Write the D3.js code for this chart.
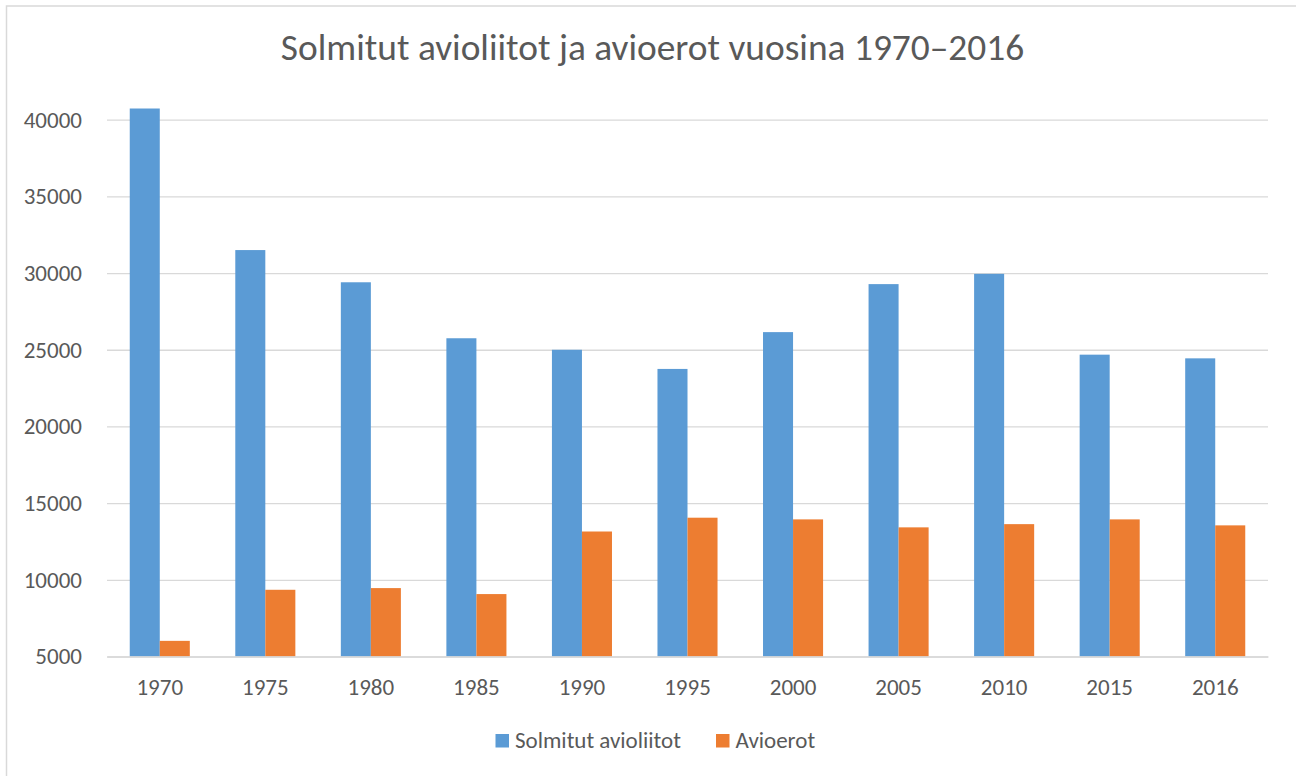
<!DOCTYPE html>
<html>
<head>
<meta charset="utf-8">
<script src="https://cdn.jsdelivr.net/npm/d3@7"></script>
<style>
  html, body { margin: 0; padding: 0; background: #fff; }
  svg text { font-family: Carlito, Calibri, Lato, sans-serif; fill: #595959; }
</style>
</head>
<body>
<div id="chart"></div>
<script>
var years = ["1970", "1975", "1980", "1985", "1990", "1995", "2000", "2005", "2010", "2015", "2016"];
var marriages = [40730, 31500, 29400, 25750, 25000, 23750, 26150, 29280, 29950, 24680, 24440];
var divorces = [6020, 9350, 9460, 9070, 13150, 14050, 13940, 13420, 13630, 13940, 13550];
var yTicks = [5000, 10000, 15000, 20000, 25000, 30000, 35000, 40000];
var seriesNames = ["Solmitut avioliitot", "Avioerot"];
var seriesColors = ["#5b9bd5", "#ed7d31"];

var width = 1296, height = 776;
var plot = {left: 107, right: 1268, top: 119.7, bottom: 656.5};

var svg = d3.select('#chart')
  .append('svg')
    .attr('width', width)
    .attr('height', height);

// chart frame
svg.append('rect')
  .attr('x', 6.5).attr('y', 6)
  .attr('width', width + 10).attr('height', height + 10)
  .attr('fill', 'none')
  .attr('stroke', '#d9d9d9')
  .attr('stroke-width', 1.5);

svg.append('text')
  .attr('x', 652.5).attr('y', 60)
  .attr('text-anchor', 'middle')
  .style('font-size', '37.4px')
  .style('font-weight', 300)
  .text("Solmitut avioliitot ja avioerot vuosina 1970\u20132016");

var x = d3.scaleBand()
  .domain(years)
  .range([plot.left, plot.right])
  .paddingInner(0.431)
  .paddingOuter(0.2155);

var xs = d3.scaleBand()
  .domain([0, 1])
  .range([0, x.bandwidth()]);

var y = d3.scaleLinear()
  .domain([5000, 40000])
  .range([plot.bottom, plot.top]);

// gridlines
svg.append('g')
  .attr('transform', 'translate(' + plot.left + ',0)')
  .call(d3.axisLeft(y).tickValues(yTicks).tickSize(-(plot.right - plot.left)).tickFormat(''))
  .call(function (g) {
    g.select('.domain').remove();
    g.selectAll('line').attr('stroke', '#d9d9d9').attr('stroke-width', 1.3);
  });

// y labels
svg.append('g')
  .attr('transform', 'translate(' + (plot.left - 25) + ',0)')
  .call(d3.axisLeft(y).tickValues(yTicks).tickSize(0).tickFormat(d3.format('d')))
  .call(function (g) {
    g.select('.domain').remove();
    g.selectAll('text').attr('text-anchor', 'end').attr('x', 0).style('font-size', '23px');
  });

var groups = svg.selectAll('g.year')
  .data(years)
  .enter()
    .append('g')
      .classed('year', true)
      .attr('transform', function (d) { return 'translate(' + x(d) + ',0)'; });

groups.append('rect')
  .attr('x', xs(0))
  .attr('width', xs.bandwidth())
  .attr('y', function (d, i) { return y(marriages[i]); })
  .attr('height', function (d, i) { return plot.bottom - y(marriages[i]); })
  .attr('fill', seriesColors[0]);

groups.append('rect')
  .attr('x', xs(1))
  .attr('width', xs.bandwidth())
  .attr('y', function (d, i) { return y(divorces[i]); })
  .attr('height', function (d, i) { return plot.bottom - y(divorces[i]); })
  .attr('fill', seriesColors[1]);

// x axis
svg.append('g')
  .attr('transform', 'translate(0,' + plot.bottom + ')')
  .call(d3.axisBottom(x).tickSize(0).tickPadding(22))
  .call(function (g) {
    g.select('.domain').attr('stroke', '#d9d9d9').attr('stroke-width', 1.5);
    g.selectAll('text').style('font-size', '23px');
  });

// legend
var legendX = [495.5, 716];
var legend = svg.selectAll('g.legend')
  .data(seriesNames)
  .enter()
    .append('g')
      .classed('legend', true)
      .attr('transform', function (d, i) { return 'translate(' + legendX[i] + ',734)'; });
legend.append('rect')
  .attr('width', 13.5).attr('height', 13.5)
  .attr('fill', function (d, i) { return seriesColors[i]; });
legend.append('text')
  .attr('x', 19.5).attr('y', 14)
  .style('font-size', '23px')
  .text(function (d) { return d; });
</script>
</body>
</html>
